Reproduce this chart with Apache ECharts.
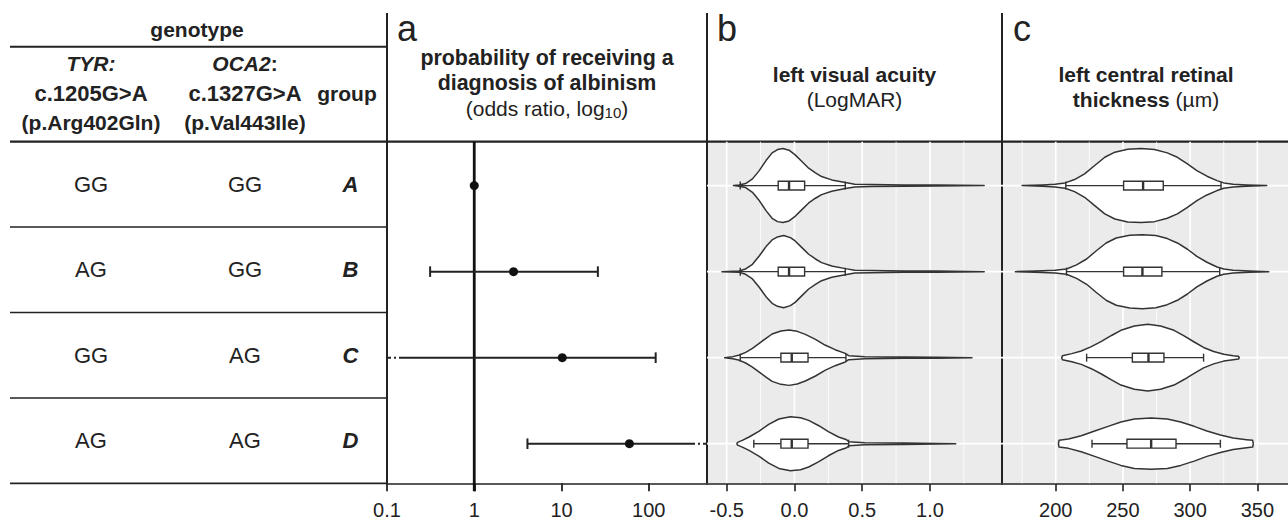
<!DOCTYPE html>
<html>
<head>
<meta charset="utf-8">
<script src="https://cdn.jsdelivr.net/npm/echarts@6/dist/echarts.min.js"></script>
<style>
html,body{margin:0;padding:0;background:#fff;}
#chart{width:1288px;height:524px;}
</style>
</head>
<body>
<div id="chart"></div>
<script>
// ---------------- data ----------------
const groups = ['A', 'B', 'C', 'D'];
const tyrGenotype = ['GG', 'AG', 'GG', 'AG'];
const oca2Genotype = ['GG', 'GG', 'AG', 'AG'];

// (a) odds ratio of an albinism diagnosis (group A = reference)
const referenceOR = 1;
const orEstimate = [1, 2.82, 10.2, 60];
const orLower = [null, 0.312, 0.05, 4.07];   // C lower limit lies below the axis
const orUpper = [null, 26.1, 120, 800];      // D upper limit lies beyond the axis
const orTicks = [0.1, 1, 10, 100];

// (b) left visual acuity (LogMAR)
const vaTicks = [-0.5, 0, 0.5, 1.0];
const vaMinorTicks = [-0.25, 0.25, 0.75, 1.25];
// violin outlines: [value, half width in row units]
const vaViolinA = [[-0.45,0],[-0.41,0.008],[-0.36,0.023],[-0.31,0.078],[-0.26,0.174],[-0.21,0.291],[-0.165,0.38],[-0.125,0.419],[-0.085,0.43],[-0.04,0.411],[0.005,0.357],[0.055,0.279],[0.105,0.202],[0.155,0.147],[0.2,0.105],[0.275,0.066],[0.375,0.035],[0.445,0.016],[0.57,0.012],[0.81,0.008],[1.055,0.006],[1.4,0]];
const vaViolinB = [[-0.535,0],[-0.41,0.008],[-0.36,0.031],[-0.31,0.085],[-0.26,0.182],[-0.21,0.291],[-0.165,0.368],[-0.125,0.403],[-0.08,0.419],[-0.03,0.395],[0.005,0.357],[0.055,0.279],[0.105,0.202],[0.155,0.147],[0.2,0.105],[0.275,0.066],[0.375,0.035],[0.445,0.016],[0.57,0.012],[0.81,0.008],[1.055,0.006],[1.4,0]];
const vaViolinC = [[-0.515,0],[-0.455,0.012],[-0.405,0.031],[-0.36,0.062],[-0.31,0.109],[-0.26,0.167],[-0.21,0.225],[-0.165,0.275],[-0.1,0.31],[-0.04,0.322],[0.02,0.306],[0.08,0.271],[0.155,0.213],[0.225,0.147],[0.3,0.093],[0.375,0.05],[0.4,0.023],[0.52,0.012],[0.81,0.008],[1.055,0.006],[1.31,0]];
const vaViolinD = [[-0.425,0],[-0.42,0.016],[-0.385,0.039],[-0.335,0.078],[-0.26,0.147],[-0.19,0.225],[-0.115,0.287],[-0.03,0.314],[0.045,0.302],[0.105,0.271],[0.18,0.209],[0.25,0.14],[0.325,0.078],[0.385,0.047],[0.4,0.023],[0.52,0.012],[0.81,0.008],[1.055,0.004],[1.19,0]];
// box stats: [lower whisker, Q1, median, Q3, upper whisker]
const vaBoxA = [-0.40, -0.12, -0.04, 0.075, 0.375];
const vaBoxB = [-0.40, -0.12, -0.04, 0.075, 0.375];
const vaBoxC = [-0.40, -0.10, -0.02, 0.10, 0.38];
const vaBoxD = [-0.30, -0.10, -0.02, 0.10, 0.40];

// (c) left central retinal thickness (µm)
const crtTicks = [200, 250, 300, 350];
const crtMinorTicks = [175, 225, 275, 325];
const crtViolinA = [[175,0],[190,0.008],[199.5,0.016],[207,0.031],[214,0.07],[221.5,0.136],[229,0.233],[236.5,0.329],[244,0.388],[253.5,0.422],[263.5,0.43],[273.5,0.419],[283,0.38],[290.5,0.329],[298,0.252],[305,0.174],[312.5,0.109],[320,0.058],[325,0.031],[332,0.016],[342,0.008],[357,0]];
const crtViolinB = [[170,0],[185,0.008],[199.5,0.016],[208,0.031],[215.5,0.078],[223,0.147],[230,0.24],[237.5,0.333],[245,0.391],[255,0.422],[264.5,0.43],[274.5,0.419],[283,0.384],[290.5,0.333],[298,0.26],[305,0.178],[312.5,0.109],[320,0.054],[325,0.031],[332,0.016],[344.5,0.008],[358.5,0]];
const crtViolinC = [[204.5,0],[205,0.023],[212,0.047],[219,0.078],[226.5,0.128],[234,0.19],[241.5,0.258],[248.5,0.318],[258.5,0.368],[268.5,0.388],[278,0.368],[288,0.318],[295.5,0.254],[303,0.182],[310,0.119],[317.5,0.072],[325,0.04],[332,0.023],[336,0.016],[336.5,0]];
const crtViolinD = [[202,0],[202.5,0.039],[209.5,0.054],[219,0.093],[229,0.147],[239,0.202],[248.5,0.252],[258.5,0.287],[271,0.298],[283,0.287],[293,0.252],[303,0.202],[312.5,0.147],[322.5,0.101],[332,0.066],[342,0.047],[346.5,0.039],[347,0]];
const crtBoxA = [207.5, 250.5, 265, 280, 323];
const crtBoxB = [208, 250.5, 264.5, 279, 322];
const crtBoxC = [223, 257, 269, 280.5, 310];
const crtBoxD = [227, 253, 271, 289.5, 322.5];

// ---------------- layout & style ----------------
const FONT = '"Liberation Sans", Arial, Helvetica, sans-serif';
const INK = '#222222';
const OUTLINE = '#333333';
const PANEL_BG = '#ebebeb';
const TOP = 141.7, PH = 341.6;
const BOX_H = 4.4, CAP_H = 4, ERR_CAP = 5.3, TAIL = 16;
const COL_X = [81, 235, 340.5];   // table column centres, relative to table left

function font(size, weight, style) {
  return (style || 'normal') + ' ' + (weight || 'normal') + ' ' + size + 'px ' + FONT;
}
function txt(x, y, text, fnt, extra) {
  return {type: 'text', x: x, y: y, silent: true,
    style: Object.assign({text: text, font: fnt, fill: INK, align: 'center', verticalAlign: 'middle',
      textAlign: 'center', textVerticalAlign: 'middle'}, extra || {})};
}
function ln(x1, y1, x2, y2, w) {
  return {type: 'line', silent: true, shape: {x1: x1, y1: y1, x2: x2, y2: y2},
    style: {stroke: INK, lineWidth: w || 2}};
}
function rs(size, weight, style) {
  return {fontSize: size, fontWeight: weight || 'normal', fontStyle: style || 'normal', fontFamily: FONT, fill: INK, color: INK};
}

const vaViolins = [vaViolinA, vaViolinB, vaViolinC, vaViolinD];
const vaBoxes = [vaBoxA, vaBoxB, vaBoxC, vaBoxD];
const crtViolins = [crtViolinA, crtViolinB, crtViolinC, crtViolinD];
const crtBoxes = [crtBoxA, crtBoxB, crtBoxC, crtBoxD];

function violinRender(profiles, boxes) {
  return function (params, api) {
    const i = params.dataIndex, row = i + 1;
    const prof = profiles[i], b = boxes[i];
    const pts = [];
    prof.forEach(function (p) { pts.push(api.coord([p[0], row - p[1]])); });
    for (let k = prof.length - 1; k >= 0; k--) pts.push(api.coord([prof[k][0], row + prof[k][1]]));
    const yc = api.coord([b[2], row])[1];
    const xs = b.map(function (v) { return api.coord([v, row])[0]; });
    const st = {stroke: OUTLINE, lineWidth: 1.4, fill: null};
    return {type: 'group', children: [
      {type: 'polygon', shape: {points: pts}, style: {fill: '#ffffff', stroke: OUTLINE, lineWidth: 1.5, lineJoin: 'round'}},
      {type: 'line', shape: {x1: xs[0], y1: yc, x2: xs[1], y2: yc}, style: st},
      {type: 'line', shape: {x1: xs[3], y1: yc, x2: xs[4], y2: yc}, style: st},
      {type: 'rect', shape: {x: xs[1], y: yc - BOX_H, width: xs[3] - xs[1], height: 2 * BOX_H},
        style: {fill: '#ffffff', stroke: OUTLINE, lineWidth: 1.4}},
      {type: 'line', shape: {x1: xs[2], y1: yc - BOX_H, x2: xs[2], y2: yc + BOX_H}, style: {stroke: OUTLINE, lineWidth: 2.4}},
      {type: 'line', shape: {x1: xs[0], y1: yc - CAP_H, x2: xs[0], y2: yc + CAP_H}, style: st},
      {type: 'line', shape: {x1: xs[4], y1: yc - CAP_H, x2: xs[4], y2: yc + CAP_H}, style: st}
    ]};
  };
}

function gridLineSeries(idx, major, minor) {
  const vals = major.concat(minor);
  return {
    type: 'custom', xAxisIndex: idx, yAxisIndex: idx, z: 1, silent: true,
    data: vals.map(function (v) { return [v, 1]; }),
    renderItem: function (params, api) {
      const cs = params.coordSys;
      const x = api.coord([api.value(0), 1])[0];
      const isMajor = params.dataIndex < major.length;
      return {type: 'line', shape: {x1: x, y1: cs.y, x2: x, y2: cs.y + cs.height},
        style: {stroke: '#ffffff', lineWidth: isMajor ? 1.7 : 0.8}};
    }
  };
}
function rowLineSeries(idx, xRef) {
  return {
    type: 'custom', xAxisIndex: idx, yAxisIndex: idx, z: 1, silent: true,
    data: groups.map(function (g, i) { return [xRef, i + 1]; }),
    renderItem: function (params, api) {
      const cs = params.coordSys;
      const y = api.coord([xRef, api.value(1)])[1];
      return {type: 'line', shape: {x1: cs.x, y1: y, x2: cs.x + cs.width, y2: y},
        style: {stroke: '#ffffff', lineWidth: 1.7}};
    }
  };
}

const panelYAxis = function (gi) {
  return {gridIndex: gi, type: 'value', inverse: true, min: 0.49, max: 4.46, show: false};
};
const axisLabelStyle = {color: INK, fontSize: 20, fontFamily: FONT, margin: 17};

const option = {
  animation: false,
  backgroundColor: '#ffffff',
  grid: [
    {left: 10, top: TOP, width: 377, height: PH, outerBoundsMode: 'none'},
    {left: 387, top: TOP, width: 320, height: PH, outerBoundsMode: 'none'},
    {left: 707, top: TOP, width: 295, height: PH, show: true, backgroundColor: PANEL_BG, borderWidth: 0, outerBoundsMode: 'none'},
    {left: 1002, top: TOP, width: 286, height: PH, show: true, backgroundColor: PANEL_BG, borderWidth: 0, outerBoundsMode: 'none'}
  ],
  xAxis: [
    {gridIndex: 0, type: 'value', min: 0, max: 377, show: false},
    {gridIndex: 1, type: 'log', logBase: 10, min: 0.1, max: 465,
      axisLine: {show: true, lineStyle: {color: INK, width: 1.6}},
      axisTick: {show: true, customValues: orTicks, length: 8, lineStyle: {color: INK, width: 1.8}},
      axisLabel: Object.assign({customValues: orTicks, formatter: function (v) { return String(+Number(v).toPrecision(6)); }}, axisLabelStyle),
      splitLine: {show: false}, minorTick: {show: false}, minorSplitLine: {show: false}},
    {gridIndex: 2, type: 'value', min: -0.6454, max: 1.5314,
      axisLine: {show: true, lineStyle: {color: INK, width: 1.6}},
      axisTick: {show: true, customValues: vaTicks, length: 8, lineStyle: {color: INK, width: 1.6}},
      axisLabel: Object.assign({customValues: vaTicks, formatter: function (v) { return Number(v).toFixed(1); }}, axisLabelStyle),
      splitLine: {show: false}},
    {gridIndex: 3, type: 'value', min: 160.04, max: 372.8,
      axisLine: {show: true, lineStyle: {color: INK, width: 1.6}},
      axisTick: {show: true, customValues: crtTicks, length: 8, lineStyle: {color: INK, width: 1.6}},
      axisLabel: Object.assign({customValues: crtTicks, formatter: function (v) { return String(Math.round(v)); }}, axisLabelStyle),
      splitLine: {show: false}}
  ],
  yAxis: [
    {gridIndex: 0, type: 'value', inverse: true, min: 0.5, max: 4.5, show: false},
    panelYAxis(1), panelYAxis(2), panelYAxis(3)
  ],
  graphic: {elements: [
    // header texts
    txt(197, 29, 'genotype', font(21, 'bold')),
    txt(91, 63, 'TYR:', font(21, 'bold', 'italic')),
    txt(91, 93, 'c.1205G>A', font(22, 'bold')),
    txt(91, 122, '(p.Arg402Gln)', font(21, 'bold')),
    {type: 'text', x: 245, y: 63, silent: true, style: {text: '{i|OCA2}{b|:}', align: 'center', verticalAlign: 'middle',
      textAlign: 'center', textVerticalAlign: 'middle', fill: INK,
      rich: {i: rs(21, 'bold', 'italic'), b: rs(21, 'bold')}}},
    txt(245, 93, 'c.1327G>A', font(22, 'bold')),
    txt(245, 122, '(p.Val443Ile)', font(21, 'bold')),
    txt(347, 93, 'group', font(21, 'bold')),
    // panel letters
    txt(397, 28, 'a', font(36), {align: 'left', textAlign: 'left'}),
    txt(717, 28, 'b', font(36), {align: 'left', textAlign: 'left'}),
    txt(1013, 28, 'c', font(36), {align: 'left', textAlign: 'left'}),
    // panel titles
    txt(547, 58, 'probability of receiving a', font(21.4, 'bold')),
    txt(547, 83, 'diagnosis of albinism', font(21.4, 'bold')),
    {type: 'text', x: 547, y: 108, silent: true, style: {text: '{n|(odds ratio, log}{s|10}{n|)}', align: 'center', verticalAlign: 'middle',
      textAlign: 'center', textVerticalAlign: 'middle', fill: INK,
      rich: {n: Object.assign(rs(21), {lineHeight: 24, verticalAlign: 'middle'}),
             s: Object.assign(rs(15), {lineHeight: 15, verticalAlign: 'bottom'})}}},
    txt(854.5, 74, 'left visual acuity', font(21, 'bold')),
    txt(854.5, 99, '(LogMAR)', font(21)),
    txt(1146, 74, 'left central retinal', font(21, 'bold')),
    {type: 'text', x: 1146, y: 99, silent: true, style: {text: '{b|thickness }{n|(µm)}', align: 'center', verticalAlign: 'middle',
      textAlign: 'center', textVerticalAlign: 'middle', fill: INK,
      rich: {b: rs(21, 'bold'), n: rs(21)}}},
    // frame lines
    ln(10, 46.7, 387, 46.7, 2),
    ln(10, TOP, 1288, TOP, 2.2),
    ln(387, 13, 387, TOP + PH, 2),
    ln(707, 13, 707, TOP + PH, 2),
    ln(1002, 13, 1002, TOP + PH, 2)
  ]},
  series: [
    // genotype table
    {
      type: 'custom', xAxisIndex: 0, yAxisIndex: 0, silent: true,
      data: groups.map(function (g, i) { return [0, i + 1]; }),
      renderItem: function (params, api) {
        const i = params.dataIndex, row = i + 1, cs = params.coordSys;
        const yc = api.coord([0, row])[1];
        const ySep = api.coord([0, row + 0.5])[1];
        const base = {fill: INK, align: 'center', verticalAlign: 'middle', textAlign: 'center', textVerticalAlign: 'middle'};
        return {type: 'group', children: [
          {type: 'text', style: Object.assign({text: tyrGenotype[i], x: cs.x + COL_X[0], y: yc, font: font(22)}, base)},
          {type: 'text', style: Object.assign({text: oca2Genotype[i], x: cs.x + COL_X[1], y: yc, font: font(22)}, base)},
          {type: 'text', style: Object.assign({text: groups[i], x: cs.x + COL_X[2], y: yc, font: font(22, 'bold', 'italic')}, base)},
          {type: 'line', shape: {x1: cs.x, y1: ySep, x2: cs.x + cs.width, y2: ySep},
            style: {stroke: INK, lineWidth: row === groups.length ? 1.8 : 1.5}}
        ]};
      }
    },
    // reference line OR = 1
    {
      type: 'custom', xAxisIndex: 1, yAxisIndex: 1, silent: true, z: 2,
      data: [[referenceOR, 1]],
      renderItem: function (params, api) {
        const cs = params.coordSys;
        const x = api.coord([api.value(0), 1])[0];
        return {type: 'line', shape: {x1: x, y1: cs.y, x2: x, y2: cs.y + cs.height + 8},
          style: {stroke: '#111111', lineWidth: 2.8}};
      }
    },
    // odds ratios with 95% CI
    {
      type: 'custom', xAxisIndex: 1, yAxisIndex: 1, silent: true, z: 3,
      data: orEstimate.map(function (v, i) { return [v, i + 1]; }),
      renderItem: function (params, api) {
        const i = params.dataIndex, row = i + 1, cs = params.coordSys;
        const p = api.coord([orEstimate[i], row]);
        const y = p[1];
        const ch = [];
        const st = {stroke: INK, lineWidth: 2};
        if (orLower[i] != null) {
          const xl = api.coord([orLower[i], row])[0];
          const xh = api.coord([orUpper[i], row])[0];
          const xmin = cs.x, xmax = cs.x + cs.width;
          const loOut = xl < xmin, hiOut = xh > xmax;
          const s0 = loOut ? xmin + TAIL : xl;
          const s1 = hiOut ? xmax - TAIL : xh;
          ch.push({type: 'line', shape: {x1: s0, y1: y, x2: s1, y2: y}, style: st});
          if (loOut) ch.push({type: 'line', shape: {x1: xmin, y1: y, x2: s0, y2: y}, style: {stroke: INK, lineWidth: 2, lineDash: [4, 3, 2, 3]}});
          else ch.push({type: 'line', shape: {x1: xl, y1: y - ERR_CAP, x2: xl, y2: y + ERR_CAP}, style: st});
          if (hiOut) ch.push({type: 'line', shape: {x1: s1, y1: y, x2: xmax, y2: y}, style: {stroke: INK, lineWidth: 2, lineDash: [4, 3, 2, 3]}});
          else ch.push({type: 'line', shape: {x1: xh, y1: y - ERR_CAP, x2: xh, y2: y + ERR_CAP}, style: st});
        }
        ch.push({type: 'circle', shape: {cx: p[0], cy: y, r: 4.5}, style: {fill: '#111111'}});
        return {type: 'group', children: ch};
      }
    },
    // panel b
    gridLineSeries(2, vaTicks, vaMinorTicks),
    rowLineSeries(2, vaTicks[1]),
    {type: 'custom', xAxisIndex: 2, yAxisIndex: 2, z: 3, silent: true,
      data: groups.map(function (g, i) { return [vaBoxes[i][2], i + 1]; }),
      renderItem: violinRender(vaViolins, vaBoxes)},
    // panel c
    gridLineSeries(3, crtTicks, crtMinorTicks),
    rowLineSeries(3, crtTicks[1]),
    {type: 'custom', xAxisIndex: 3, yAxisIndex: 3, z: 3, silent: true,
      data: groups.map(function (g, i) { return [crtBoxes[i][2], i + 1]; }),
      renderItem: violinRender(crtViolins, crtBoxes)}
  ]
};

const chart = echarts.init(document.getElementById('chart'), null, {renderer: 'svg', width: 1288, height: 524});
chart.setOption(option);
</script>
</body>
</html>
